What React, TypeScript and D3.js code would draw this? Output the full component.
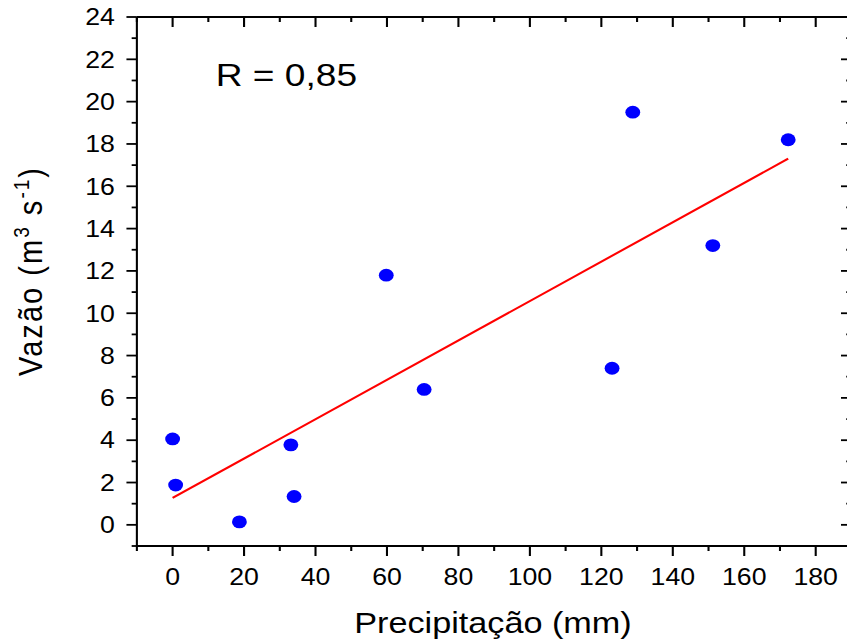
import React from "react";
import * as d3 from "d3";

// values
const precip = [0, 0.85, 18.7, 33.1, 34.0, 59.8, 70.4, 123.0, 128.8, 151.2, 172.3];
const vazao = [4.06, 1.88, 0.14, 3.78, 1.34, 11.8, 6.4, 7.4, 19.5, 13.2, 18.2];
const xMajor = [0, 20, 40, 60, 80, 100, 120, 140, 160, 180];
const xMinor = [-10, 10, 30, 50, 70, 90, 110, 130, 150, 170, 190];
const yMajor = [0, 2, 4, 6, 8, 10, 12, 14, 16, 18, 20, 22, 24];
const yMinor = [-1, 1, 3, 5, 7, 9, 11, 13, 15, 17, 19, 21, 23];
const rText = "R = 0,85";

const W = 847;
const H = 643;
const SX = 1.16; // the original picture is stretched sideways

const App = () => {
  const x = d3.scaleLinear().domain([-10, 190]).range([118, 734]);
  const y = d3.scaleLinear().domain([-1, 24]).range([546, 17]);

  // least squares fit of the points
  const mx = d3.mean(precip) as number;
  const my = d3.mean(vazao) as number;
  let sxy = 0, sxx = 0;
  precip.forEach((p, i) => {
    sxy += (p - mx) * (vazao[i] - my);
    sxx += (p - mx) * (p - mx);
  });
  const slope = sxy / sxx;
  const icpt = my - slope * mx;
  const x0 = d3.min(precip) as number;
  const x1 = d3.max(precip) as number;
  const fit = d3.line<number>().x((d) => x(d)).y((d) => y(icpt + slope * d));

  const font = "'Liberation Sans', Arial, sans-serif";
  const x0px = x(-10), x1px = x(190), y0px = y(-1), y1px = y(24);

  return (
    <div style={{ position: "absolute", left: 0, top: 0 }}>
      <svg width={W} height={H} style={{ display: "block", background: "#fff" }}>
        <g transform={`scale(${SX},1)`} fontFamily={font}>
          {/* frame */}
          <g stroke="#000" strokeWidth={1.8} fill="none">
            <line x1={x0px} x2={x0px} y1={y1px} y2={y0px} />
            <line x1={x1px} x2={x1px} y1={y1px} y2={y0px} />
            <line x1={x0px} x2={x1px} y1={y0px} y2={y0px} />
            <line x1={x0px} x2={x1px} y1={y1px} y2={y1px} />
            {xMajor.map((t) => (
              <g key={"xm" + t}>
                <line x1={x(t)} x2={x(t)} y1={y0px} y2={y0px + 10} />
                <line x1={x(t)} x2={x(t)} y1={y1px} y2={y1px + 10} />
              </g>
            ))}
            {xMinor.map((t) => (
              <g key={"xn" + t}>
                <line x1={x(t)} x2={x(t)} y1={y0px} y2={y0px + 5} />
                <line x1={x(t)} x2={x(t)} y1={y1px} y2={y1px + 5} />
              </g>
            ))}
            {yMajor.map((t) => (
              <g key={"ym" + t}>
                <line x1={x0px - 9} x2={x0px} y1={y(t)} y2={y(t)} />
                <line x1={x1px - 9} x2={x1px} y1={y(t)} y2={y(t)} />
              </g>
            ))}
            {yMinor.map((t) => (
              <g key={"yn" + t}>
                <line x1={x0px - 4.5} x2={x0px} y1={y(t)} y2={y(t)} />
                <line x1={x1px - 4.5} x2={x1px} y1={y(t)} y2={y(t)} />
              </g>
            ))}
          </g>

          {/* tick labels */}
          <g fontSize={23} fill="#000">
            {xMajor.map((t) => (
              <text key={"xl" + t} x={x(t)} y={585} textAnchor="middle">
                {t}
              </text>
            ))}
            {yMajor.map((t) => (
              <text key={"yl" + t} x={99} y={y(t) + 8.3} textAnchor="end">
                {t}
              </text>
            ))}
          </g>

          {/* fit line */}
          <path d={fit([x0, x1]) as string} stroke="#ff0000" strokeWidth={2} fill="none" />

          {/* points */}
          {precip.map((p, i) => (
            <circle key={i} cx={x(p)} cy={y(vazao[i])} r={6.4} fill="#0000ff" />
          ))}

          <text x={186} y={86} fontSize={32} fill="#000">
            {rText}
          </text>

          <text x={425} y={633} fontSize={29.5} textAnchor="middle" fill="#000">
            Precipitação (mm)
          </text>

          <text
            transform={`translate(36.2,272) rotate(-90)`}
            fontSize={29}
            textAnchor="middle"
            fill="#000"
            textLength={208}
            lengthAdjust="spacing"
          >
            Vazão (m
            <tspan fontSize={19} dy={-11}>3</tspan>
            <tspan dy={11}> s</tspan>
            <tspan fontSize={19} dy={-11}>-1</tspan>
            <tspan dy={11}>)</tspan>
          </text>
        </g>
      </svg>
    </div>
  );
};

export default App;
